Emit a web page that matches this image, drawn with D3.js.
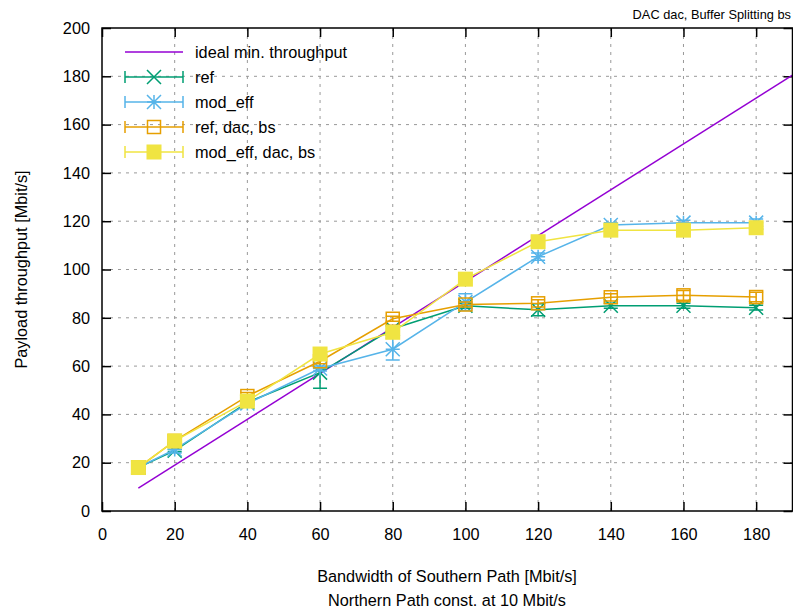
<!DOCTYPE html>
<html>
<head>
<meta charset="utf-8">
<script src="https://cdn.jsdelivr.net/npm/d3@7"></script>
<style>
  body { margin: 0; background: #fff; }
  svg text { font-family: "Liberation Sans", Arial, sans-serif; fill: #000; }
</style>
</head>
<body>
<div id="chart"></div>
<script>
// Chart data
const bandwidths = [10, 20, 40, 60, 80, 100, 120, 140, 160, 180];
const idealX = [10, 190];
const idealY = [9.5, 180.5];

const refValues = [18, 25, 45, 57.3, 75.5, 85, 83.3, 85, 85, 84.2];
const refErr = [0.5, 0.5, 1, 6.5, 1, 1, 2.5, 1, 1, 1];
const modEffValues = [18, 25.5, 44.5, 59, 67, 86.5, 105.3, 118.4, 119.4, 119.4];
const modEffErr = [0.5, 1.5, 1, 1, 4.5, 3.5, 1.5, 1, 1, 1.5];
const refDacValues = [18, 29, 47.6, 62, 79.6, 85.5, 86, 88.5, 89.3, 88.6];
const refDacErr = [0.5, 0.5, 1.5, 1, 1, 1, 1.5, 1.5, 2, 2];
const modEffDacValues = [18, 29, 45.5, 65, 74, 96, 111.5, 116.3, 116.3, 117.3];
const modEffDacErr = [0.5, 0.5, 0.5, 0.5, 0.5, 0.5, 0.5, 0.5, 0.5, 0.5];

const xTicks = [0, 20, 40, 60, 80, 100, 120, 140, 160, 180];
const yTicks = [0, 20, 40, 60, 80, 100, 120, 140, 160, 180, 200];

const series = [
    { name: "ref", color: "#009e73", marker: "x", values: refValues, err: refErr },
    { name: "mod_eff", color: "#56b4e9", marker: "star", values: modEffValues, err: modEffErr },
    { name: "ref, dac, bs", color: "#e69f00", marker: "square", values: refDacValues, err: refDacErr },
    { name: "mod_eff, dac, bs", color: "#f0e442", marker: "filled", values: modEffDacValues, err: modEffDacErr }
];

const W = 793, H = 612;
const margin = { top: 28, right: 0.5, bottom: 101, left: 102 };
const fontSize = 16.3;

const svg = d3.select("#chart").append("svg")
    .attr("width", W)
    .attr("height", H);

const xScale = d3.scaleLinear().domain([0, 190]).range([margin.left, W - margin.right]);
const yScale = d3.scaleLinear().domain([0, 200]).range([H - margin.bottom, margin.top]);

const x0 = xScale(0), x1 = xScale(190), y0 = yScale(0), y1 = yScale(200);

// Grid (dashed)
const grid = svg.append("g").attr("stroke", "#999").attr("stroke-width", 1).attr("stroke-dasharray", "3,5");
xTicks.filter(t => t > 0).forEach(t => {
    grid.append("line").attr("x1", xScale(t)).attr("x2", xScale(t)).attr("y1", y0).attr("y2", y1);
});
yTicks.filter(t => t > 0 && t < 200).forEach(t => {
    grid.append("line").attr("x1", x0).attr("x2", x1).attr("y1", yScale(t)).attr("y2", yScale(t));
});

// Axes with inward ticks
const tickLen = 9;
svg.append("g")
    .attr("transform", `translate(0,${y0})`)
    .call(d3.axisBottom(xScale).tickValues(xTicks).tickSizeInner(-tickLen).tickSizeOuter(0).tickPadding(17))
    .call(g => g.select(".domain").remove())
    .call(g => g.selectAll("line").attr("stroke-width", 1.5))
    .call(g => g.selectAll("text").attr("font-size", fontSize).attr("font-family", "Liberation Sans, Arial, sans-serif"));

svg.append("g")
    .attr("transform", `translate(${x0},0)`)
    .call(d3.axisLeft(yScale).tickValues(yTicks).tickSizeInner(-tickLen).tickSizeOuter(0).tickPadding(12))
    .call(g => g.select(".domain").remove())
    .call(g => g.selectAll("line").attr("stroke-width", 1.5))
    .call(g => g.selectAll("text").attr("font-size", fontSize).attr("font-family", "Liberation Sans, Arial, sans-serif"));

svg.append("g")
    .attr("transform", `translate(0,${y1})`)
    .call(d3.axisTop(xScale).tickValues(xTicks).tickSizeInner(-tickLen).tickSizeOuter(0).tickFormat(""))
    .call(g => g.select(".domain").remove())
    .call(g => g.selectAll("line").attr("stroke-width", 1.5));

svg.append("g")
    .attr("transform", `translate(${x1},0)`)
    .call(d3.axisRight(yScale).tickValues(yTicks).tickSizeInner(-tickLen).tickSizeOuter(0).tickFormat(""))
    .call(g => g.select(".domain").remove())
    .call(g => g.selectAll("line").attr("stroke-width", 1.5));

// Ideal line
const line = d3.line().x(d => xScale(d[0])).y(d => yScale(d[1]));
svg.append("path")
    .datum(d3.zip(idealX, idealY))
    .attr("d", line)
    .attr("fill", "none")
    .attr("stroke", "#9400d3")
    .attr("stroke-width", 1.5);

// Marker drawing helper
function drawMarker(g, type, color, cx, cy) {
    const s = 7;
    if (type === "x") {
        g.append("path").attr("d", `M${cx - s},${cy - s}L${cx + s},${cy + s}M${cx - s},${cy + s}L${cx + s},${cy - s}`)
            .attr("stroke", color).attr("stroke-width", 1.5).attr("fill", "none");
    } else if (type === "star") {
        g.append("path").attr("d", `M${cx - s},${cy - s}L${cx + s},${cy + s}M${cx - s},${cy + s}L${cx + s},${cy - s}M${cx},${cy - s}L${cx},${cy + s}M${cx - s},${cy}L${cx + s},${cy}`)
            .attr("stroke", color).attr("stroke-width", 1.5).attr("fill", "none");
    } else if (type === "square") {
        g.append("rect").attr("x", cx - 6.5).attr("y", cy - 6.5).attr("width", 13).attr("height", 13)
            .attr("stroke", color).attr("stroke-width", 1.5).attr("fill", "none");
    } else {
        g.append("rect").attr("x", cx - 7.5).attr("y", cy - 7.5).attr("width", 15).attr("height", 15)
            .attr("fill", color);
    }
}

// Series: error bars, lines, markers
series.forEach(s => {
    const g = svg.append("g");
    const pts = d3.zip(bandwidths, s.values);
    g.append("path")
        .datum(pts)
        .attr("d", line)
        .attr("fill", "none")
        .attr("stroke", s.color)
        .attr("stroke-width", 1.5);
    bandwidths.forEach((b, i) => {
        const cx = xScale(b);
        const lo = yScale(s.values[i] - s.err[i]);
        const hi = yScale(s.values[i] + s.err[i]);
        g.append("path")
            .attr("d", `M${cx},${lo}L${cx},${hi}M${cx - 7},${lo}L${cx + 7},${lo}M${cx - 7},${hi}L${cx + 7},${hi}`)
            .attr("stroke", s.color).attr("stroke-width", 1.5).attr("fill", "none");
        drawMarker(g, s.marker, s.color, cx, yScale(s.values[i]));
    });
});

// Border
svg.append("rect")
    .attr("x", x0).attr("y", y1)
    .attr("width", x1 - x0).attr("height", y0 - y1)
    .attr("fill", "none").attr("stroke", "#000").attr("stroke-width", 1.5);

// Legend
const legend = svg.append("g").attr("font-size", fontSize);
const legendRows = [{ name: "ideal min. throughput", color: "#9400d3", marker: null }].concat(series);
legendRows.forEach((r, i) => {
    const ly = 52 + i * 25;
    const lg = legend.append("g");
    lg.append("line").attr("x1", 125).attr("x2", 183).attr("y1", ly).attr("y2", ly)
        .attr("stroke", r.color).attr("stroke-width", 1.5);
    if (r.marker) {
        lg.append("path").attr("d", `M125,${ly - 6}L125,${ly + 6}M183,${ly - 6}L183,${ly + 6}`)
            .attr("stroke", r.color).attr("stroke-width", 1.5);
        drawMarker(lg, r.marker, r.color, 154, ly);
    }
    lg.append("text").attr("x", 195).attr("y", ly + 6).text(r.name);
});

// Titles and axis labels
svg.append("text").attr("x", 791).attr("y", 19).attr("text-anchor", "end").attr("font-size", 12.8)
    .text("DAC dac, Buffer Splitting bs");

svg.append("text").attr("x", 447).attr("y", 582).attr("text-anchor", "middle").attr("font-size", fontSize)
    .text("Bandwidth of Southern Path [Mbit/s]");
svg.append("text").attr("x", 447).attr("y", 606).attr("text-anchor", "middle").attr("font-size", fontSize)
    .text("Northern Path const. at 10 Mbit/s");

svg.append("text").attr("transform", `translate(27,${(y0 + y1) / 2}) rotate(-90)`)
    .attr("text-anchor", "middle").attr("font-size", fontSize)
    .text("Payload throughput [Mbit/s]");
</script>
</body>
</html>
